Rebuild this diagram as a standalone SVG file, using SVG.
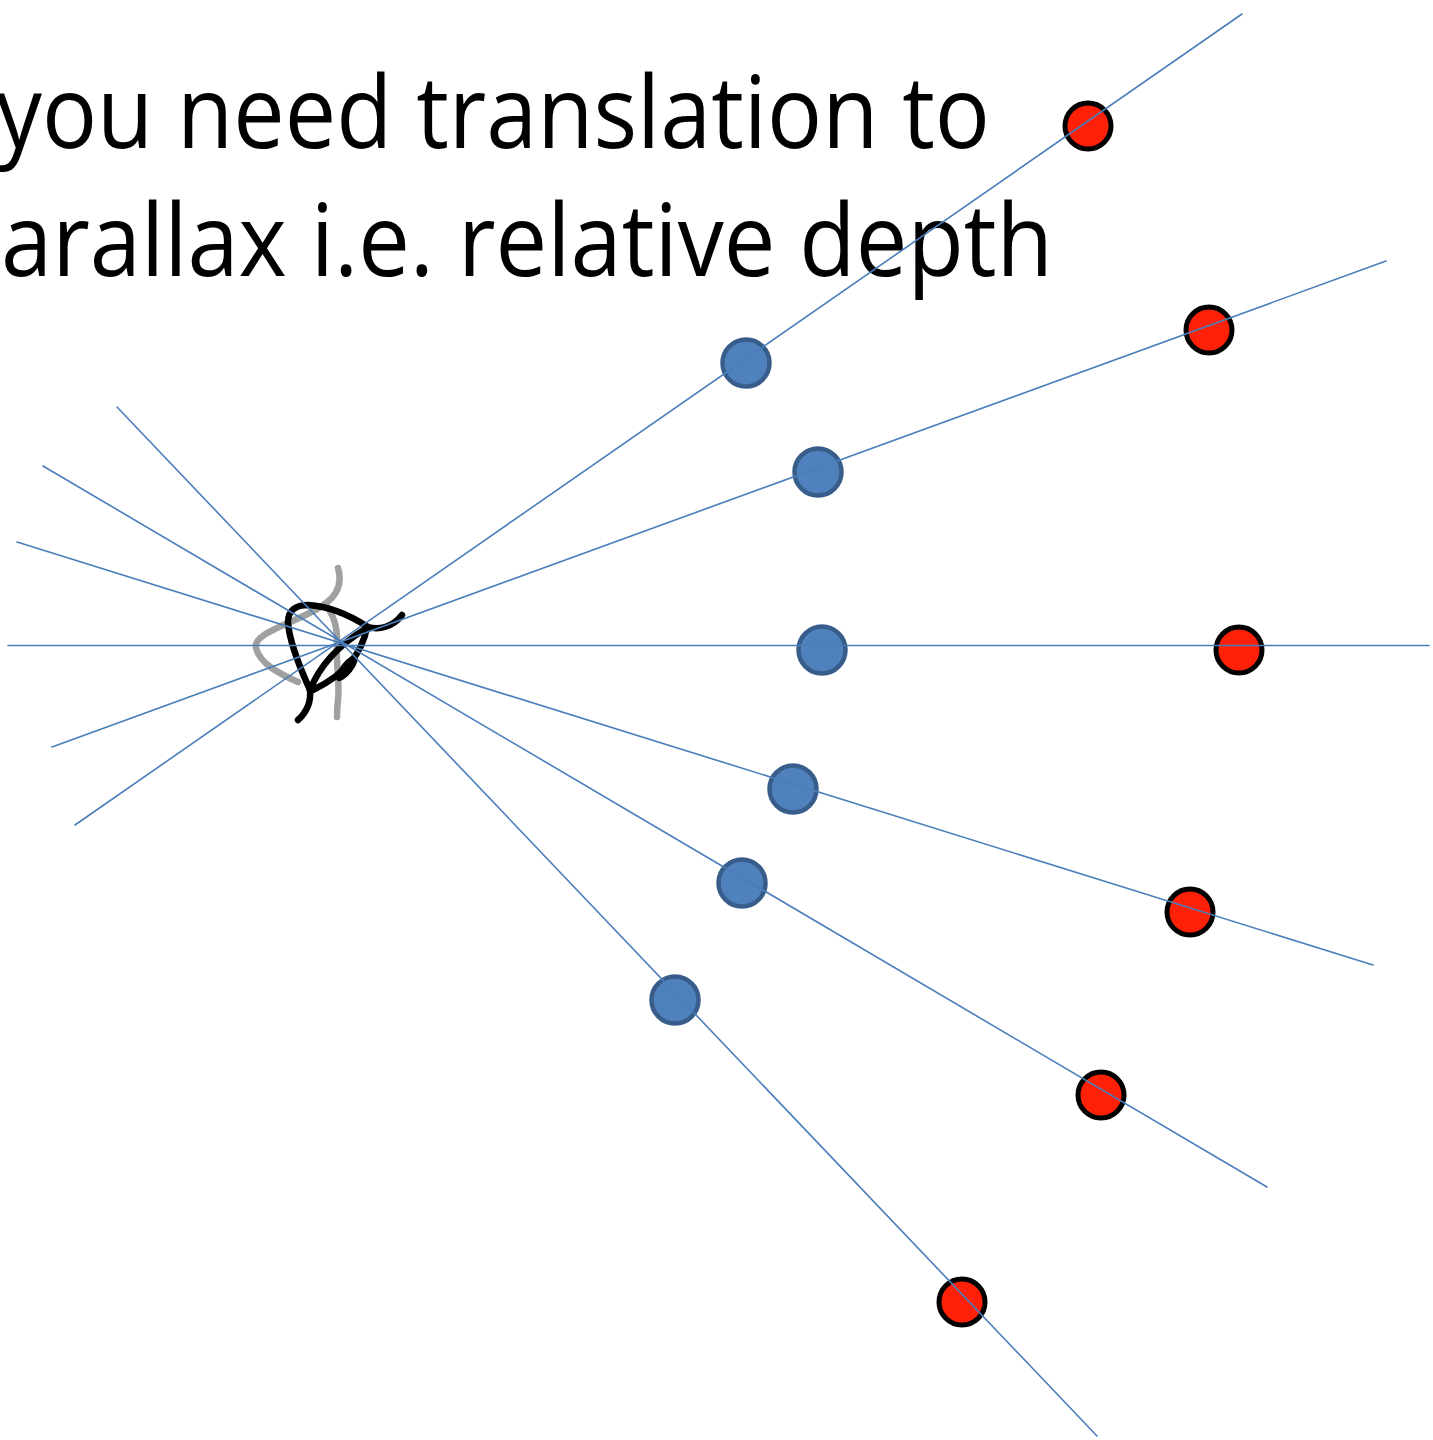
<svg xmlns="http://www.w3.org/2000/svg" width="1433" height="1440" viewBox="0 0 1433 1440">
  <style>
    .caption { font-family: "Open Sans", "Liberation Sans", sans-serif; font-size: 100px; fill: #000; }
    .ray { stroke: #4a7ebb; stroke-width: 1.6; fill: none; stroke-linecap: round; }
    .near { fill: #4f81bd; stroke: #385d8a; stroke-width: 4.5; }
    .far { fill: #ff2008; stroke: #000; stroke-width: 5; }
    .eye-ink { fill: none; stroke: #000; stroke-width: 6.5; stroke-linecap: round; stroke-linejoin: round; }
    .eye-ghost { fill: none; stroke: #a0a0a0; stroke-width: 6.5; stroke-linecap: round; stroke-linejoin: round; }
  </style>
  <defs>
    <filter id="soft" x="-20%" y="-20%" width="140%" height="140%">
      <feGaussianBlur stdDeviation="0.7"/>
    </filter>
  </defs>
  <rect width="1433" height="1440" fill="#fff"/>

  <!-- heading -->
  <g id="heading">
    <text class="caption" x="-4" y="148" textLength="994" lengthAdjust="spacingAndGlyphs">you need translation to</text>
    <text class="caption" x="1" y="276" textLength="1052" lengthAdjust="spacingAndGlyphs">arallax i.e. relative depth</text>
  </g>

  <!-- viewer's eye (previous position shown faded) -->
  <g id="eye" filter="url(#soft)">
    <path class="eye-ghost" d="M338,568 C343,585 336,596 325,604 C300,622 252,632 256,648 C260,664 280,674 298,682"/>
    <path class="eye-ghost" d="M325,604 C334,615 338,628 337,645 C336,665 340,685 338,700 C337,708 337,713 337,717"/>
    <path class="eye-ink" d="M310,690 C300,668 289,640 288,622 C288,610 296,605 308,605 C325,606 345,612 368,627 C378,630 392,628 402,615"/>
    <path class="eye-ink" d="M310,690 C318,670 333,648 367,628 C362,650 350,672 313,690"/>
    <path class="eye-ink" d="M310,690 C311,700 309,710 298,720"/>
    <ellipse cx="347" cy="668" rx="16" ry="6" transform="rotate(-52 347 668)" fill="#000"/>
  </g>

  <!-- nearby objects -->
  <g id="near-points">
    <circle id="near-1" class="near" cx="746" cy="363" r="23.5"/>
    <circle id="near-2" class="near" cx="818" cy="472" r="23.5"/>
    <circle id="near-3" class="near" cx="822" cy="650" r="23.5"/>
    <circle id="near-4" class="near" cx="793" cy="789" r="23.5"/>
    <circle id="near-5" class="near" cx="742" cy="883" r="23.5"/>
    <circle id="near-6" class="near" cx="675" cy="1000" r="23.5"/>
  </g>

  <!-- distant objects -->
  <g id="far-points">
    <circle id="far-1" class="far" cx="1088" cy="126" r="23"/>
    <circle id="far-2" class="far" cx="1209" cy="330" r="23"/>
    <circle id="far-3" class="far" cx="1239" cy="650" r="23"/>
    <circle id="far-4" class="far" cx="1190" cy="912" r="23"/>
    <circle id="far-5" class="far" cx="1101" cy="1095" r="23"/>
    <circle id="far-6" class="far" cx="962" cy="1302" r="23"/>
  </g>

  <!-- lines of sight through the eye -->
  <g id="rays">
    <line class="ray" x1="8" y1="645.5" x2="1429" y2="645.5"/>
    <line class="ray" x1="75" y1="825" x2="1242" y2="14"/>
    <line class="ray" x1="52" y1="747" x2="1386" y2="261"/>
    <line class="ray" x1="17" y1="542" x2="1373" y2="965"/>
    <line class="ray" x1="43" y1="466" x2="1267" y2="1187"/>
    <line class="ray" x1="117" y1="407" x2="1097" y2="1436"/>
  </g>
</svg>
